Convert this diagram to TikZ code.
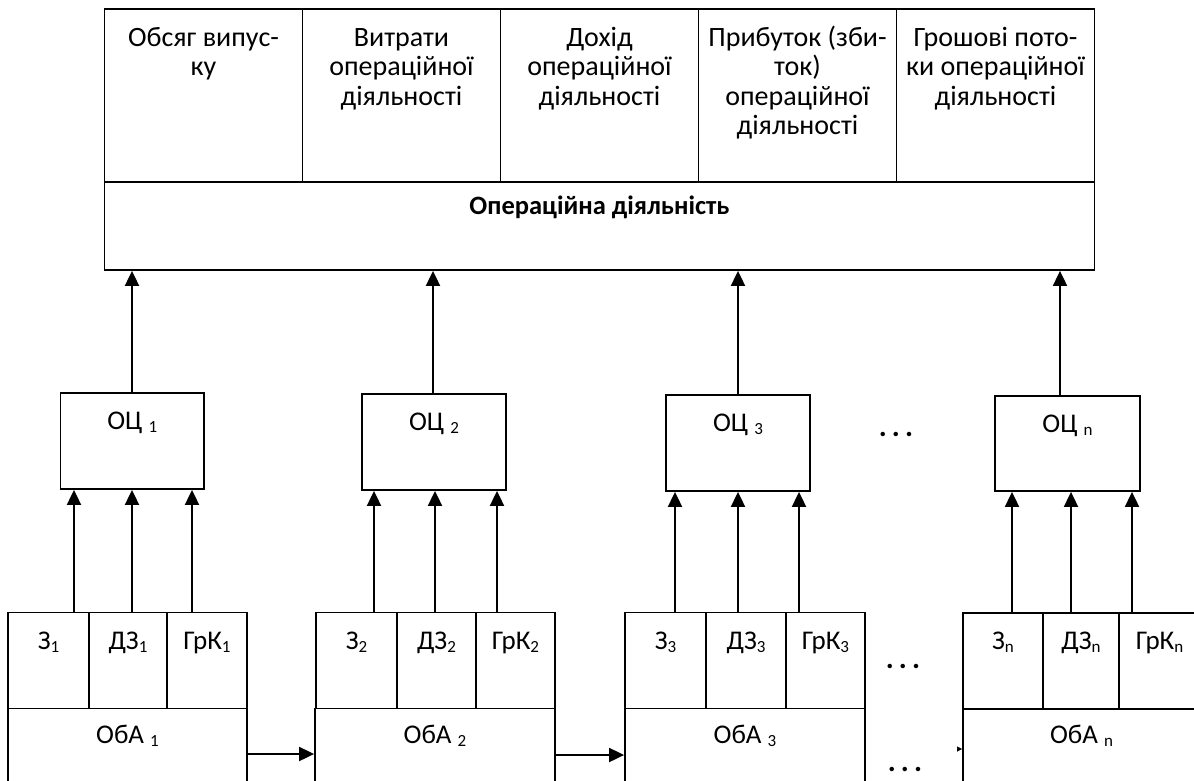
\documentclass[tikz,border=0pt]{standalone}
\usepackage{fontspec}
\setmainfont{Carlito}
\usetikzlibrary{arrows.meta,fit}
\newcommand\lsub[1]{\raisebox{-3pt}{\fontsize{17}{17}\selectfont #1}}
\begin{document}
\begin{tikzpicture}[x=1pt,y=-1pt,
  box/.style={draw, line width=1.8pt, inner sep=0pt, rectangle},
  lbl/.style={inner sep=0pt, anchor=base, font=\fontsize{27}{29.5}\selectfont},
  toptxt/.style={inner sep=0pt, anchor=north, align=center, font=\fontsize{28}{29.5}\selectfont},
  boldtxt/.style={inner sep=0pt, anchor=base, font=\bfseries\fontsize{26.5}{29}\selectfont},
  dotstxt/.style={inner sep=0pt, anchor=base, font=\bfseries\fontsize{30}{30}\selectfont},
  arr/.style={line width=1.9pt, -{Triangle[length=15pt,width=14pt]}},
]
\useasboundingbox (0,0) rectangle (1194,780);
\clip (0,0) rectangle (1194,780);

% top block
\node[box, fit={(104.5,9) (302.5,182)}] (c1) {};
\node[box, fit={(302.5,9) (500.5,182)}] (c2) {};
\node[box, fit={(500.5,9) (698.5,182)}] (c3) {};
\node[box, fit={(698.5,9) (896.5,182)}] (c4) {};
\node[box, fit={(896.5,9) (1094.5,182)}] (c5) {};
\node[box, fit={(104.5,182) (1094.5,270)}] (od) {};

\node[toptxt] (t1) at ([yshift=-17pt]c1.north) {\rule{0pt}{21pt}Обсяг випус-\\ку};
\node[toptxt] (t2) at ([yshift=-17pt]c2.north) {\rule{0pt}{21pt}Витрати\\операційної\\діяльності};
\node[toptxt] (t3) at ([yshift=-17pt]c3.north) {\rule{0pt}{21pt}Дохід\\операційної\\діяльності};
\node[toptxt] (t4) at ([yshift=-17pt]c4.north) {\rule{0pt}{21pt}Прибуток (зби-\\ток)\\операційної\\діяльності};
\node[toptxt] (t5) at ([yshift=-17pt]c5.north) {\rule{0pt}{21pt}Грошові пото-\\ки операційної\\діяльності};
\node[boldtxt] (odt) at ([yshift=-33pt]od.north) {Операційна діяльність};

% OC boxes
\node[box, fit={(60.5,393) (204,489)}] (oc1) {};
\node[box, fit={(362,394) (506,490)}] (oc2) {};
\node[box, fit={(666,395) (810,491)}] (oc3) {};
\node[box, fit={(995,396) (1140,491)}] (ocn) {};
\node[lbl] (oc1t) at ([yshift=-37pt]oc1.north) {ОЦ \lsub{1}};
\node[lbl] (oc2t) at ([yshift=-37pt]oc2.north) {ОЦ \lsub{2}};
\node[lbl] (oc3t) at ([yshift=-37pt]oc3.north) {ОЦ \lsub{3}};
\node[lbl] (ocnt) at ([yshift=-37pt]ocn.north) {ОЦ \lsub{n}};

% group 1
\node[box, fit={(8,612.5) (89,708.5)}] (z1) {};
\node[box, fit={(89,612.5) (167,708.5)}] (d1) {};
\node[box, fit={(167,612.5) (247,708.5)}] (g1) {};
\node[box, fit={(8,708.5) (247,800)}] (oba1) {};
% group 2
\node[box, fit={(316,612.5) (397,708.5)}] (z2) {};
\node[box, fit={(397,612.5) (476,708.5)}] (d2) {};
\node[box, fit={(476,612.5) (555,708.5)}] (g2) {};
\node[box, fit={(315,708.5) (555,800)}] (oba2) {};
% group 3
\node[box, fit={(625,612.5) (706,708.5)}] (z3) {};
\node[box, fit={(706,612.5) (786,708.5)}] (d3) {};
\node[box, fit={(786,612.5) (865,708.5)}] (g3) {};
\node[box, fit={(625,708.5) (865,800)}] (oba3) {};
% group n
\node[box, fit={(963,613) (1043,709)}] (zn) {};
\node[box, fit={(1043,613) (1119,709)}] (dn) {};
\node[box, fit={(1119,613) (1200,709)}] (gn) {};
\node[box, fit={(963,709) (1200,800)}] (oban) {};

\foreach \i in {1,2,3,n}{
  \node[lbl] (z\i t) at ([yshift=-37.5pt]z\i.north) {З\lsub{\i}};
  \node[lbl] (d\i t) at ([yshift=-37.5pt]d\i.north) {ДЗ\lsub{\i}};
  \node[lbl] (g\i t) at ([yshift=-37.5pt]g\i.north) {ГрК\lsub{\i}};
  \node[lbl] (oba\i t) at ([yshift=-35.5pt]oba\i.north) {ОбА \lsub{\i}};
}

% arrows OC -> top
\draw[arr] (oc1.north -| 132,0) -- (od.south -| 132,0);
\draw[arr] (oc2.north -| 433,0) -- (od.south -| 433,0);
\draw[arr] (oc3.north -| 738,0) -- (od.south -| 738,0);
\draw[arr] (ocn.north -| 1060,0) -- (od.south -| 1060,0);

% arrows cells -> OC
\draw[arr] (z1.north -| 74,0) -- (oc1.south -| 74,0);
\draw[arr] (d1.north -| 132,0) -- (oc1.south -| 132,0);
\draw[arr] (g1.north -| 192,0) -- (oc1.south -| 192,0);
\draw[arr] (z2.north -| 374,0) -- (oc2.south -| 374,0);
\draw[arr] (d2.north -| 435,0) -- (oc2.south -| 435,0);
\draw[arr] (g2.north -| 497,0) -- (oc2.south -| 497,0);
\draw[arr] (z3.north -| 675,0) -- (oc3.south -| 675,0);
\draw[arr] (d3.north -| 738,0) -- (oc3.south -| 738,0);
\draw[arr] (g3.north -| 799,0) -- (oc3.south -| 799,0);
\draw[arr] (zn.north -| 1012,0) -- (ocn.south -| 1012,0);
\draw[arr] (dn.north -| 1071,0) -- (ocn.south -| 1071,0);
\draw[arr] (gn.north -| 1132,0) -- (ocn.south -| 1132,0);

% arrows between ObA
\draw[arr] (oba1.east |- 0,754) -- (oba2.west |- 0,754);
\draw[arr] (oba2.east |- 0,755) -- (oba3.west |- 0,755);
\coordinate (stub) at (958,749);
\draw[line width=0.6pt, -{Triangle[length=5pt,width=5pt]}] (stub) -- (oban.west |- stub);

% dots
\node[dotstxt] (dots1) at (896,436) {.\hspace{5pt}.\hspace{5pt}.};
\node[dotstxt] (dots2) at (903,668) {.\hspace{5pt}.\hspace{5pt}.};
\node[dotstxt] (dots3) at (905,771) {.\hspace{5pt}.\hspace{5pt}.};
\end{tikzpicture}
\end{document}
